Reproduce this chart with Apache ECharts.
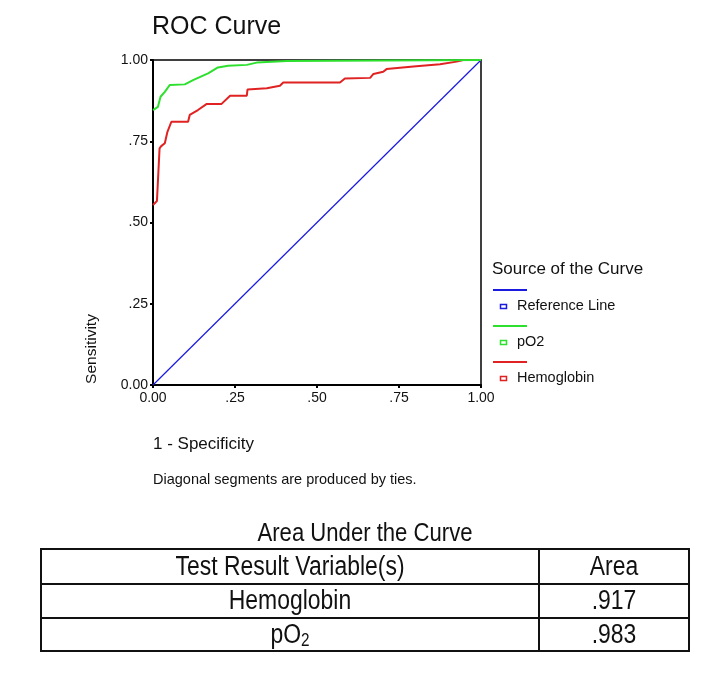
<!DOCTYPE html>
<html><head><meta charset="utf-8">
<script src="https://cdn.jsdelivr.net/npm/echarts@6/dist/echarts.min.js"></script>
<style>html,body{margin:0;padding:0;background:#fff}#c{width:712px;height:677px}</style>
</head><body><div id="c"></div>
<script>
// ---- data ----
const tickValues = [0, 0.25, 0.5, 0.75, 1];
const tickLabels = ['0.00', '.25', '.50', '.75', '1.00'];
const refFpr = [0, 1];
const refTpr = [0, 1];
const po2Fpr = [0, 0.015, 0.023, 0.036, 0.051, 0.097, 0.122, 0.168, 0.198, 0.229, 0.286, 0.316, 0.408, 0.41, 1];
const po2Tpr = [0.846, 0.856, 0.887, 0.902, 0.923, 0.925, 0.938, 0.959, 0.977, 0.982, 0.985, 0.992, 0.997, 1, 1];
const hbFpr = [0, 0.012, 0.018, 0.02, 0.025, 0.036, 0.044, 0.056, 0.107, 0.112, 0.137, 0.164, 0.209, 0.235, 0.286, 0.288, 0.347, 0.387, 0.397, 0.57, 0.585, 0.662, 0.672, 0.702, 0.712, 0.794, 0.875, 0.926, 0.946, 1];
const hbTpr = [0.554, 0.566, 0.572, 0.728, 0.735, 0.744, 0.779, 0.81, 0.81, 0.831, 0.846, 0.865, 0.865, 0.89, 0.89, 0.909, 0.913, 0.921, 0.931, 0.931, 0.943, 0.945, 0.957, 0.964, 0.972, 0.98, 0.987, 0.995, 1, 1];
const legendNames = ['Reference Line', 'pO2', 'Hemoglobin'];
const seriesColors = ['#1a1ae0', '#2ee02e', '#e02222'];
const aucHeader = ['Test Result Variable(s)', 'Area'];
const aucVariables = ['Hemoglobin', '{a|pO}{s|2}'];
const aucAreas = ['.917', '.983'];

// ---- layout ----
const G = {left: 153, top: 60, width: 328, height: 325};
const sans = '"Liberation Sans", Arial, sans-serif';
const pairs = (xs, ys) => xs.map((x, i) => [x, ys[i]]);
const labelFmt = v => { const i = tickValues.findIndex(t => Math.abs(t - v) < 1e-9); return i >= 0 ? tickLabels[i] : ''; };

const graphics = [];
graphics.push({type: 'text', x: 152, y: 27, style: {text: 'ROC Curve', font: '25px ' + sans, fill: '#111', verticalAlign: 'middle'}});
graphics.push({type: 'text', x: 92, y: 349, rotation: Math.PI / 2, style: {text: 'Sensitivity', font: '15.5px ' + sans, fill: '#111', align: 'center', verticalAlign: 'middle'}});
graphics.push({type: 'text', x: 153, y: 444, style: {text: '1 - Specificity', font: '17px ' + sans, fill: '#111', verticalAlign: 'middle'}});
graphics.push({type: 'text', x: 153, y: 480, style: {text: 'Diagonal segments are produced by ties.', font: '14.5px ' + sans, fill: '#111', verticalAlign: 'middle'}});
// legend
graphics.push({type: 'text', x: 492, y: 269, style: {text: 'Source of the Curve', font: '17px ' + sans, fill: '#111', verticalAlign: 'middle'}});
legendNames.forEach((n, i) => {
  const y0 = 290 + i * 36;
  graphics.push({type: 'line', shape: {x1: 493, y1: y0, x2: 527, y2: y0}, style: {stroke: seriesColors[i], lineWidth: 2}});
  graphics.push({type: 'rect', shape: {x: 500.5, y: y0 + 14.5, width: 6, height: 4}, style: {stroke: seriesColors[i], fill: '#fff', lineWidth: 1.5}});
  graphics.push({type: 'text', x: 517, y: y0 + 16, style: {text: n, font: '14.5px ' + sans, fill: '#111', verticalAlign: 'middle'}});
});
// AUC table
const T = {x1: 41, x2: 689, xc: 539, rows: [549, 584, 618, 651]};
const NARROW = 0.85;
graphics.push({type: 'text', x: 365, y: 534, scaleX: NARROW, style: {text: 'Area Under the Curve', font: '26px ' + sans, fill: '#111', align: 'center', verticalAlign: 'middle'}});
graphics.push({type: 'rect', shape: {x: T.x1, y: T.rows[0], width: T.x2 - T.x1, height: T.rows[3] - T.rows[0]}, style: {stroke: '#111', fill: 'none', lineWidth: 2}});
[1, 2].forEach(r => graphics.push({type: 'line', shape: {x1: T.x1, y1: T.rows[r], x2: T.x2, y2: T.rows[r]}, style: {stroke: '#111', lineWidth: 2}}));
graphics.push({type: 'line', shape: {x1: T.xc, y1: T.rows[0], x2: T.xc, y2: T.rows[3]}, style: {stroke: '#111', lineWidth: 2}});
const c1 = (T.x1 + T.xc) / 2, c2 = (T.xc + T.x2) / 2;
const rowText = [[aucHeader[0], aucHeader[1]], [aucVariables[0], aucAreas[0]], [aucVariables[1], aucAreas[1]]];
rowText.forEach((r, i) => {
  const yc = (T.rows[i] + T.rows[i + 1]) / 2 + 1;
  [c1, c2].forEach((cx, j) => {
    graphics.push({type: 'text', x: cx, y: yc, scaleX: NARROW, style: {
      text: r[j], font: '27px ' + sans, fill: '#111', align: 'center', verticalAlign: 'middle',
      rich: {a: {font: '27px ' + sans, fill: '#111', lineHeight: 30}, s: {font: '18px ' + sans, fill: '#111', lineHeight: 30, verticalAlign: 'bottom', padding: [10, 0, 0, 0]}}
    }});
  });
});

const chart = echarts.init(document.getElementById('c'), null, {renderer: 'canvas'});
chart.setOption({
  animation: false,
  backgroundColor: '#fff',
  grid: {left: G.left, top: G.top, width: G.width, height: G.height, show: true, borderColor: '#000', borderWidth: 1.5, backgroundColor: '#fff'},
  xAxis: {type: 'value', min: 0, max: 1, interval: 0.25,
    axisLine: {show: true, onZero: false, lineStyle: {color: '#000', width: 2}},
    axisTick: {show: true, length: 3, lineStyle: {color: '#000', width: 2}},
    splitLine: {show: false},
    axisLabel: {formatter: labelFmt, color: '#111', fontFamily: sans, fontSize: 14, margin: 6}},
  yAxis: {type: 'value', min: 0, max: 1, interval: 0.25,
    axisLine: {show: true, onZero: false, lineStyle: {color: '#000', width: 2}},
    axisTick: {show: true, length: 3, lineStyle: {color: '#000', width: 2}},
    splitLine: {show: false},
    axisLabel: {formatter: labelFmt, color: '#111', fontFamily: sans, fontSize: 14, margin: 5}},
  series: [
    {name: legendNames[0], type: 'line', data: pairs(refFpr, refTpr), symbol: 'none', lineStyle: {color: seriesColors[0], width: 1.2}, z: 2},
    {name: legendNames[2], type: 'line', data: pairs(hbFpr, hbTpr), symbol: 'none', lineStyle: {color: seriesColors[2], width: 2}, z: 3},
    {name: legendNames[1], type: 'line', data: pairs(po2Fpr, po2Tpr), symbol: 'none', lineStyle: {color: seriesColors[1], width: 2}, z: 4}
  ],
  graphic: graphics
});
</script></body></html>
